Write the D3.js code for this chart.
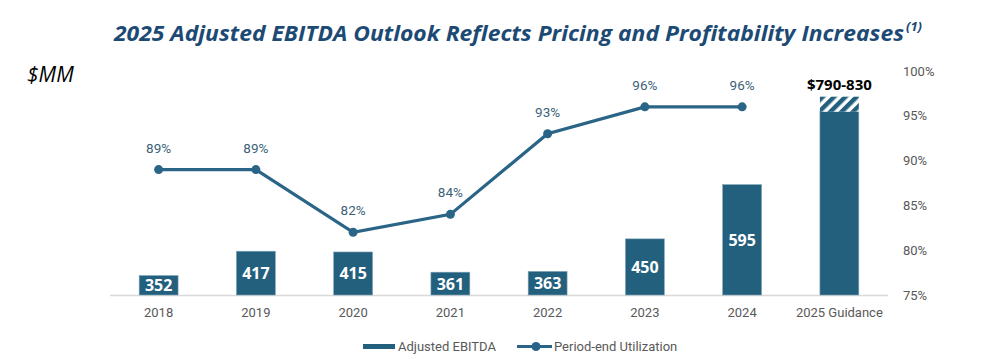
<!DOCTYPE html>
<html>
<head>
<meta charset="utf-8">
<script src="https://cdn.jsdelivr.net/npm/d3@7"></script>
<style>
body{margin:0;background:#fff;}
svg{display:block;}
</style>
</head>
<body>
<svg id="chart" width="1001" height="359"></svg>
<script>
const categories = ["2018","2019","2020","2021","2022","2023","2024","2025 Guidance"];
const ebitda = [352,417,415,361,363,450,595,790];
const guidanceHigh = 830;
const guidanceLabel = "$790-830";
const utilization = [89,89,82,84,93,96,96,null];
const rightTicks = [75,80,85,90,95,100];

const svg = d3.select("#chart");
const barColor = "#23607e";
const lineColor = "#2a6486";
const gray = "#595959";
const font = "Roboto, 'Liberation Sans', sans-serif";

const x = d3.scaleBand().domain(categories).range([110,888]).paddingInner(0.6).paddingOuter(0.3);
const yL = d3.scaleLinear().domain([300,900]).range([295,70.5]);
const yR = d3.scaleLinear().domain([75,100]).range([295,71]);

// hatch pattern
const defs = svg.append("defs");
const pat = defs.append("pattern").attr("id","hatch").attr("patternUnits","userSpaceOnUse")
  .attr("width",8).attr("height",8).attr("patternTransform","rotate(45)");
pat.append("rect").attr("width",8).attr("height",8).attr("fill","#fff");
pat.append("rect").attr("width",4.5).attr("height",8).attr("fill",barColor);

// title
svg.append("text").attr("x",509).attr("y",41).attr("text-anchor","middle")
  .attr("font-family","'Open Sans', sans-serif").attr("font-weight","bold").attr("font-style","italic")
  .attr("font-size",21).attr("fill","#1c4a74")
  .attr("textLength",790).attr("lengthAdjust","spacingAndGlyphs")
  .text("2025 Adjusted EBITDA Outlook Reflects Pricing and Profitability Increases");
svg.append("text").attr("x",906).attr("y",31)
  .attr("font-family","'Open Sans', sans-serif").attr("font-weight","bold").attr("font-style","italic")
  .attr("font-size",13).attr("fill","#1c4a74").text("(1)");

// $MM
svg.append("text").attr("x",27).attr("y",82).attr("font-family","'Open Sans', sans-serif")
  .attr("font-style","italic").attr("font-size",21).attr("fill","#000").text("$MM");

// baseline
svg.append("line").attr("x1",110).attr("x2",888).attr("y1",295.5).attr("y2",295.5)
  .attr("stroke","#d9d9d9").attr("stroke-width",1.5);

// bars
svg.selectAll("rect.bar").data(ebitda).join("rect").attr("class","bar")
  .attr("x",(d,i)=>x(categories[i])).attr("width",x.bandwidth())
  .attr("y",d=>yL(d)).attr("height",d=>yL(300)-yL(d)).attr("fill",barColor)
  .attr("stroke","#7fa3b8").attr("stroke-width",0.6);

// guidance hatch
const gi = categories.length-1;
svg.append("rect").attr("x",x(categories[gi])).attr("width",x.bandwidth())
  .attr("y",yL(guidanceHigh)).attr("height",yL(ebitda[gi])-yL(guidanceHigh)).attr("fill","url(#hatch)");
svg.append("text").attr("x",x(categories[gi])+x.bandwidth()/2).attr("y",yL(guidanceHigh)-7)
  .attr("text-anchor","middle").attr("font-family","'Open Sans', sans-serif").attr("font-weight","bold")
  .attr("font-size",15).attr("fill","#000").text(guidanceLabel);

// bar labels
svg.selectAll("text.bl").data(ebitda.slice(0,gi)).join("text").attr("class","bl")
  .attr("x",(d,i)=>x(categories[i])+x.bandwidth()/2)
  .attr("y",d=>(yL(d)+yL(300))/2+6)
  .attr("text-anchor","middle").attr("font-family","'Open Sans', sans-serif").attr("font-weight","bold")
  .attr("font-size",16).attr("fill","#fff").text(d=>d);

// x axis labels
svg.selectAll("text.xl").data(categories).join("text").attr("class","xl")
  .attr("x",d=>x(d)+x.bandwidth()/2).attr("y",317).attr("text-anchor","middle")
  .attr("font-family",font).attr("font-size",13).attr("fill",gray).text(d=>d);

// right axis
const ra = svg.append("g").attr("transform","translate(898,0)")
  .call(d3.axisRight(yR).tickValues(rightTicks).tickFormat(d=>d+"%").tickSize(0).tickPadding(5));
ra.select(".domain").remove();
ra.selectAll("text").attr("font-family",font).attr("font-size",13).attr("fill",gray);

// line
const pts = utilization.map((v,i)=>({v,c:categories[i]})).filter(d=>d.v!=null);
const line = d3.line().x(d=>x(d.c)+x.bandwidth()/2).y(d=>yR(d.v));
svg.append("path").datum(pts).attr("d",line).attr("fill","none").attr("stroke",lineColor).attr("stroke-width",3.2);
svg.selectAll("circle.pt").data(pts).join("circle").attr("class","pt")
  .attr("cx",d=>x(d.c)+x.bandwidth()/2).attr("cy",d=>yR(d.v)).attr("r",4.5).attr("fill",lineColor);
svg.selectAll("text.pl").data(pts).join("text").attr("class","pl")
  .attr("x",d=>x(d.c)+x.bandwidth()/2).attr("y",d=>yR(d.v)-17).attr("text-anchor","middle")
  .attr("font-family",font).attr("font-size",13.5).attr("fill","#3b5f78").text(d=>d.v+"%");

// legend
const lg = svg.append("g");
lg.append("rect").attr("x",363).attr("y",344).attr("width",32).attr("height",5).attr("fill",barColor);
lg.append("text").attr("x",398).attr("y",351).attr("font-family",font).attr("font-size",13).attr("fill",gray).text("Adjusted EBITDA");
lg.append("line").attr("x1",517).attr("x2",552).attr("y1",346.5).attr("y2",346.5).attr("stroke",lineColor).attr("stroke-width",3);
lg.append("circle").attr("cx",536).attr("cy",346.5).attr("r",4.5).attr("fill",lineColor);
lg.append("text").attr("x",554).attr("y",351).attr("font-family",font).attr("font-size",13).attr("fill",gray).text("Period-end Utilization");
</script>
</body>
</html>
